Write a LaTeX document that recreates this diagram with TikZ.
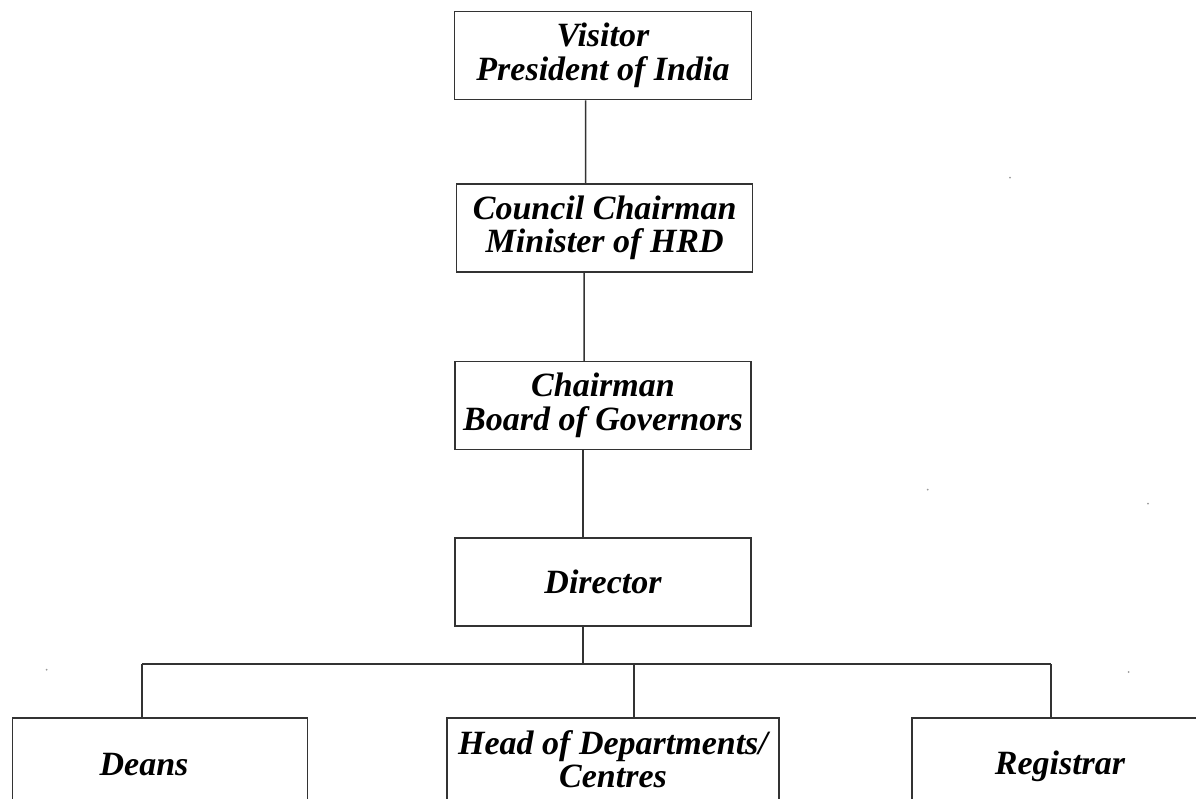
\documentclass[tikz,border=0pt]{standalone}
\usepackage{fontspec}
\setmainfont{Liberation Serif}
\begin{document}
\begin{tikzpicture}[x=1pt,y=-1pt,
  txt/.style={inner sep=0pt, align=center, text=black, font=\fontsize{34}{33.5}\selectfont\bfseries\itshape},
  box/.style={txt, draw=black!80, line width=1.5pt, rectangle},
  conn/.style={draw=black!80, line width=1.5pt},
  speck/.style={fill=black!40, draw=none, circle, inner sep=0pt, minimum size=2pt}]
\useasboundingbox (0,0) rectangle (1196,798);

\node[box, minimum width=297pt, minimum height=88pt] (visitor) at (603,55.5) {Visitor\\President of India};
\node[box, minimum width=296pt, minimum height=88pt] (council) at (604.7,228) {Council Chairman\\Minister of HRD};
\node[box, minimum width=296pt, minimum height=88pt] (chairman) at (603,405.5) {Chairman\\Board of Governors};
\node[box, minimum width=296pt, minimum height=88pt] (director) at (603,582) {Director};

\node[box, minimum width=295.4pt, minimum height=96pt] (deans) at (160,766) {};
\node[txt] (deanstext) at (144,764.5) {Deans};
\node[box, minimum width=332pt, minimum height=96pt] (heads) at (613,766) {};
\node[txt] (headstext) at (613,759) {Head of Departments/\\Centres};
\node[box, minimum width=296pt, minimum height=96pt] (registrar) at (1060,766) {Registrar};

\coordinate (busC) at (583,664);
\coordinate (busL) at (142,664);
\coordinate (busM) at (634,664);
\coordinate (busR) at (1051,664);

\draw[conn] ([xshift=-17.5pt]visitor.south) -- ([xshift=-19pt]council.north);
\draw[conn] ([xshift=-20.5pt]council.south) -- ([xshift=-19pt]chairman.north);
\draw[conn] ([xshift=-20pt]chairman.south) -- ([xshift=-20pt]director.north);
\draw[conn] ([xshift=-20pt]director.south) -- (busC);
\draw[conn] (busL) -- (busR);
\draw[conn] (busL) -- (busL |- deans.north);
\draw[conn] (busM) -- (busM |- heads.north);
\draw[conn] (busR) -- (busR |- registrar.north);

\node[speck] (s1) at (1010,177.7) {};
\node[speck] (s2) at (927.7,489.7) {};
\node[speck] (s3) at (1148,503.7) {};
\node[speck] (s4) at (46.7,669.7) {};
\node[speck] (s5) at (1128.7,672) {};
\end{tikzpicture}
\end{document}
